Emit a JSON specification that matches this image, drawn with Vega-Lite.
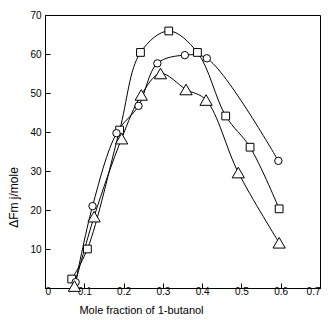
{
  "$schema": "https://vega.github.io/schema/vega-lite/v6.json",
  "width": 275,
  "height": 273,
  "autosize": "none",
  "padding": {"left": 45, "top": 15, "right": 8, "bottom": 32},
  "background": "white",
  "config": {
    "view": {"stroke": "black", "strokeWidth": 1},
    "font": "Liberation Sans"
  },
  "data": {
    "values": [
      {"s": "square", "x": 0.068, "y": 2.3},
      {"s": "square", "x": 0.108, "y": 10},
      {"s": "square", "x": 0.19, "y": 40.5},
      {"s": "square", "x": 0.243, "y": 60.4},
      {"s": "square", "x": 0.315, "y": 65.9},
      {"s": "square", "x": 0.388, "y": 60.4},
      {"s": "square", "x": 0.46, "y": 44.1},
      {"s": "square", "x": 0.522, "y": 36.1},
      {"s": "square", "x": 0.596, "y": 20.3},
      {"s": "circle", "x": 0.078, "y": 1.5},
      {"s": "circle", "x": 0.121, "y": 21},
      {"s": "circle", "x": 0.182, "y": 39.7},
      {"s": "circle", "x": 0.238, "y": 46.7},
      {"s": "circle", "x": 0.286, "y": 57.6},
      {"s": "circle", "x": 0.356, "y": 59.7},
      {"s": "circle", "x": 0.412, "y": 58.9},
      {"s": "circle", "x": 0.594, "y": 32.6},
      {"s": "triangle", "x": 0.075, "y": 0.5},
      {"s": "triangle", "x": 0.125, "y": 18.3},
      {"s": "triangle", "x": 0.195, "y": 38.3},
      {"s": "triangle", "x": 0.245, "y": 49.5},
      {"s": "triangle", "x": 0.294, "y": 55},
      {"s": "triangle", "x": 0.359, "y": 50.9},
      {"s": "triangle", "x": 0.41, "y": 48.2},
      {"s": "triangle", "x": 0.492, "y": 29.6},
      {"s": "triangle", "x": 0.596, "y": 11.6}
    ]
  },
  "encoding": {
    "x": {
      "field": "x", "type": "quantitative",
      "scale": {"domain": [0, 0.7], "nice": false, "zero": false},
      "axis": {
        "values": [0, 0.1, 0.2, 0.3, 0.4, 0.5, 0.6, 0.7],
        "labelExpr": "datum.value == 0 ? '0' : format(datum.value, '.1f')",
        "title": "Mole fraction of 1-butanol",
        "titleFont": "Liberation Sans", "titleFontSize": 11, "titleFontWeight": "normal", "titleColor": "black",
        "titleX": 96, "titleY": 16, "titleAnchor": "middle",
        "labelFontSize": 10, "labelColor": "black", "labelPadding": 3,
        "tickSize": -5, "tickColor": "black", "domainColor": "black", "grid": false
      }
    },
    "y": {
      "field": "y", "type": "quantitative",
      "scale": {"domain": [0, 70], "nice": false},
      "axis": {
        "values": [10, 20, 30, 40, 50, 60, 70],
        "title": "ΔFm  j/mole",
        "titleFont": "Liberation Sans", "titleFontSize": 12, "titleFontWeight": "normal", "titleColor": "black",
        "titleX": -25, "titleY": 182, "titleAnchor": "middle",
        "labelFontSize": 10, "labelColor": "black", "labelPadding": 9,
        "tickSize": -5, "tickColor": "black", "domainColor": "black", "grid": false
      }
    }
  },
  "layer": [
    {
      "mark": {"type": "line", "interpolate": "catmull-rom", "color": "black", "strokeWidth": 1},
      "encoding": {"detail": {"field": "s"}}
    },
    {
      "mark": {"type": "point", "filled": true, "fill": "white", "stroke": "black", "strokeWidth": 1, "opacity": 1},
      "encoding": {
        "shape": {"field": "s", "type": "nominal", "scale": {"domain": ["square", "circle", "triangle"], "range": ["square", "circle", "triangle-up"]}, "legend": null},
        "size": {"field": "s", "type": "nominal", "scale": {"type": "ordinal", "domain": ["square", "circle", "triangle"], "range": [60, 55, 150]}, "legend": null}
      }
    }
  ]
}
